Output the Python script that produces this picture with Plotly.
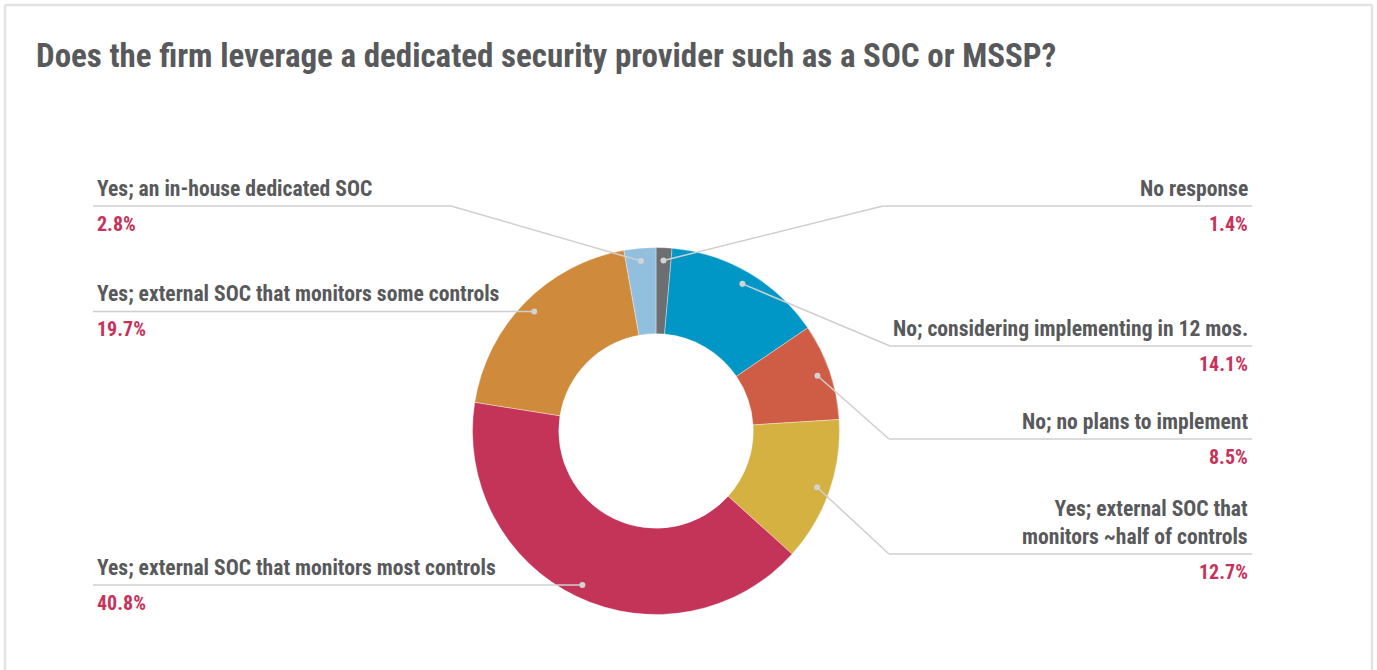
import math
import plotly.graph_objects as go

# Survey answers, in clockwise order starting at 12 o'clock
categories = [
    "No response",
    "No; considering implementing in 12 mos.",
    "No; no plans to implement",
    "Yes; external SOC that<br>monitors ~half of controls",
    "Yes; external SOC that monitors most controls",
    "Yes; external SOC that monitors some controls",
    "Yes; an in-house dedicated SOC",
]
shares = [1.4, 14.1, 8.5, 12.7, 40.8, 19.7, 2.8]
slice_colors = ["#6d6e71", "#0097c7", "#cf5d45", "#d4b141", "#c43358", "#d08a3c", "#93bfdf"]

# Callout placement: side of the chart, y of the underline, x of the elbow
callout_side = ["right", "right", "right", "right", "left", "left", "left"]
callout_line_y = [206, 346, 439, 554, None, None, 206]
callout_elbow_x = [883, 890, 889, 889, None, None, 451]

W, H = 1377, 670
CX, CY, R = 656, 431, 183.5
HOLE = 0.53
FONT = "Roboto Condensed, Roboto, sans-serif"
TEXT_GRAY = "#58595b"
PCT_RED = "#c8325a"
LEADER = "#cfcfcf"


def px(x):
    return x / W


def py(y):
    return 1 - y / H


fig = go.Figure(
    go.Pie(
        labels=[c.replace("<br>", " ") for c in categories],
        values=shares,
        sort=False,
        direction="clockwise",
        rotation=0,
        hole=HOLE,
        textinfo="none",
        hoverinfo="label+percent",
        marker=dict(colors=slice_colors, line=dict(color="rgba(255,255,255,0.6)", width=0.6)),
        domain=dict(x=[px(CX - R), px(CX + R)], y=[py(CY + R), py(CY - R)]),
        showlegend=False,
    )
)

shapes = []
annotations = []

# Light frame around the card (open at the bottom)
frame = dict(color="#e3e3e3", width=2.5)
shapes.append(dict(type="line", xref="paper", yref="paper", x0=px(5), x1=px(1372), y0=py(5), y1=py(5), line=frame))
shapes.append(dict(type="line", xref="paper", yref="paper", x0=px(5), x1=px(5), y0=py(5), y1=py(H + 5), line=frame))
shapes.append(dict(type="line", xref="paper", yref="paper", x0=px(1372), x1=px(1372), y0=py(5), y1=py(H + 5), line=frame))

annotations.append(dict(
    text="Does the firm leverage a dedicated security provider such as a SOC or MSSP?",
    xref="paper", yref="paper", x=px(34), y=py(56), xanchor="left", yanchor="middle",
    showarrow=False, font=dict(family=FONT, size=33, color=TEXT_GRAY, weight="bold"),
))

total = sum(shares)
cum = 0.0
r_dot = 0.93 * R
for i, v in enumerate(shares):
    theta = math.radians((cum + v / 2) / total * 360)
    cum += v
    dx = CX + r_dot * math.sin(theta)
    dy = CY - r_dot * math.cos(theta)

    line_y = callout_line_y[i] if callout_line_y[i] is not None else dy
    elbow = callout_elbow_x[i]
    if callout_side[i] == "right":
        end_x, text_x, anchor = 1252, 1250, "right"
    else:
        end_x, text_x, anchor = 93, 95, "left"

    pts = [(dx, dy)]
    if elbow is not None:
        pts.append((elbow, line_y))
    pts.append((end_x, line_y))
    for (x0, y0), (x1, y1) in zip(pts[:-1], pts[1:]):
        shapes.append(dict(type="line", xref="paper", yref="paper",
                           x0=px(x0), y0=py(y0), x1=px(x1), y1=py(y1),
                           line=dict(color=LEADER, width=1.5)))
    shapes.append(dict(type="circle", xref="paper", yref="paper",
                       x0=px(dx - 3), x1=px(dx + 3), y0=py(dy + 3), y1=py(dy - 3),
                       fillcolor="#d3d3d3", line=dict(width=0)))

    annotations.append(dict(
        text=categories[i], xref="paper", yref="paper", x=px(text_x), y=py(line_y - 3),
        xanchor=anchor, yanchor="bottom", align=anchor, showarrow=False,
        font=dict(family=FONT, size=21.6, color=TEXT_GRAY, weight="bold"),
    ))
    annotations.append(dict(
        text=f"{v:.1f}%", xref="paper", yref="paper", x=px(text_x), y=py(line_y + 4),
        xanchor=anchor, yanchor="top", showarrow=False,
        font=dict(family=FONT, size=20, color=PCT_RED, weight="bold"),
    ))

fig.update_layout(
    width=W, height=H,
    margin=dict(l=0, r=0, t=0, b=0),
    paper_bgcolor="white", plot_bgcolor="white",
    shapes=shapes, annotations=annotations,
)

fig.write_html("out.html")
